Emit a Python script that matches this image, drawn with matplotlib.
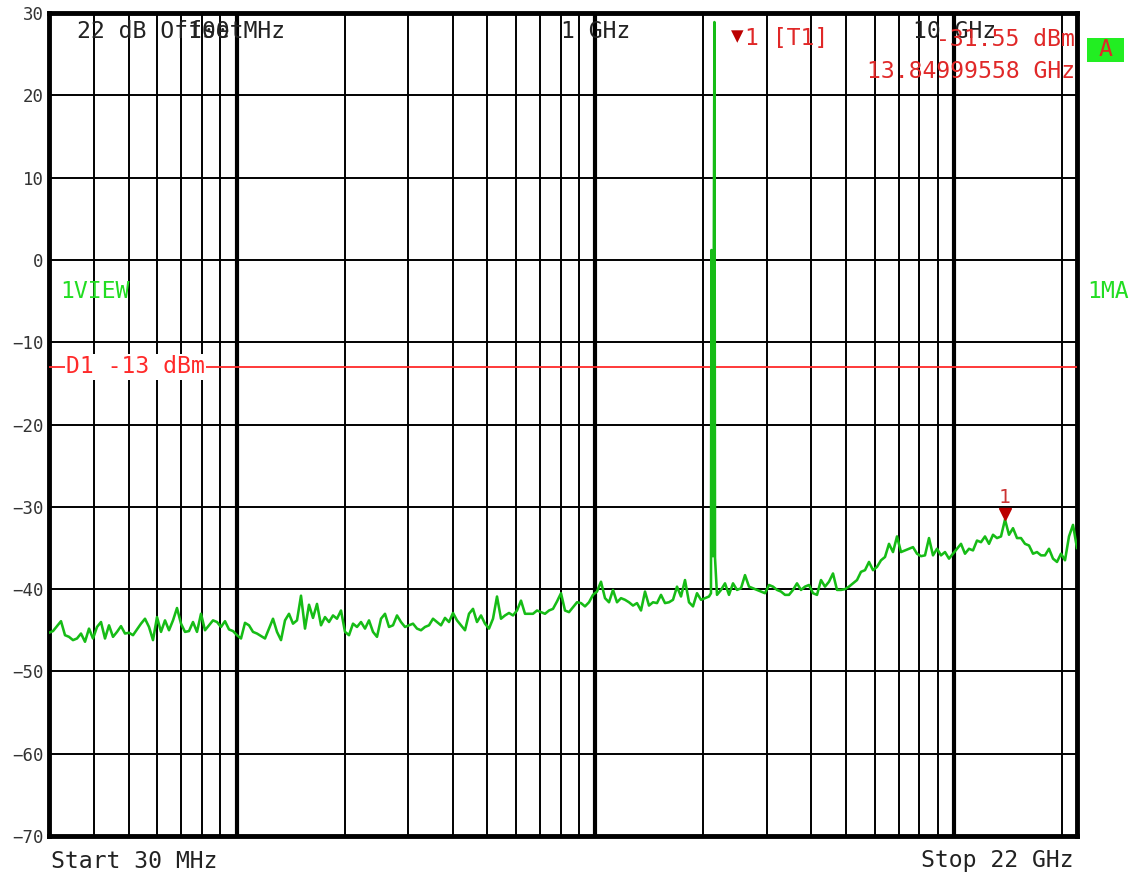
import numpy as np
import matplotlib.pyplot as plt
from matplotlib.patches import Rectangle
from matplotlib.transforms import blended_transform_factory, offset_copy

plt.rcParams['font.family'] = ['DejaVu Sans Mono', 'DejaVu Sans']

# sweep settings
START_HZ = 30e6
STOP_HZ = 22e9

# max-hold trace, one value per sweep point (dBm)
trace_dbm = [
    -45.3, -45.1, -44.5, -43.9, -45.6, -45.8, -46.2, -46.0, -45.4, -46.4,
    -44.8, -46.0, -44.6, -44.0, -46.0, -44.4, -45.8, -45.2, -44.5, -45.4,
    -45.3, -45.6, -44.9, -44.2, -43.6, -44.6, -46.2, -43.4, -45.2, -43.8,
    -45.0, -43.8, -42.3, -44.2, -45.2, -45.1, -44.0, -45.2, -43.0, -45.0,
    -44.4, -43.8, -44.0, -44.6, -43.9, -44.9, -45.1, -45.6, -46.0, -44.1,
    -44.4, -45.2, -45.4, -45.7, -46.0, -44.8, -43.6, -45.2, -46.2, -43.8,
    -43.0, -44.2, -43.8, -40.8, -44.8, -41.9, -43.5, -41.8, -44.4, -43.4,
    -44.0, -43.2, -43.6, -42.6, -45.2, -45.6, -44.2, -44.6, -44.0, -44.8,
    -43.8, -45.2, -45.8, -43.6, -43.0, -44.6, -44.4, -43.2, -44.0, -44.6,
    -44.4, -44.2, -44.8, -45.0, -44.6, -44.4, -43.6, -44.0, -44.4, -43.5,
    -44.0, -42.9, -43.8, -44.4, -45.0, -43.0, -42.4, -44.0, -43.2, -44.2,
    -44.8, -43.6, -40.9, -43.6, -43.2, -42.9, -43.2, -42.6, -41.4, -43.0,
    -43.0, -43.0, -42.6, -42.8, -43.0, -42.6, -42.4, -41.5, -40.5, -42.6,
    -42.8, -42.2, -41.6, -41.7, -42.1, -41.6, -40.7, -40.3, -39.1, -41.1,
    -41.6, -40.1, -41.6, -41.1, -41.3, -41.6, -42.0, -41.7, -42.6, -40.3,
    -42.0, -41.6, -41.7, -40.7, -41.7, -41.6, -41.3, -39.7, -40.9, -38.9,
    -41.6, -42.1, -40.5, -41.3, -41.1, -40.9, -36.0, -40.7, -40.1, -39.3,
    -40.7, -39.3, -40.1, -39.9, -38.3, -39.7, -39.9, -40.1, -40.3, -40.5,
    -39.5, -39.7, -40.1, -40.3, -40.7, -40.7, -40.1, -39.3, -40.1, -39.7,
    -39.5, -40.5, -40.7, -38.9, -39.7, -39.1, -38.1, -40.1, -40.1, -40.0,
    -39.7, -39.3, -38.9, -37.9, -37.7, -36.7, -37.7, -37.3, -36.5, -36.1,
    -34.5, -35.5, -33.6, -35.5, -35.3, -35.1, -34.9, -35.7, -36.0, -35.9,
    -33.8, -35.9, -35.1, -35.9, -35.5, -36.3, -35.7, -35.1, -34.5, -35.7,
    -35.1, -35.3, -34.1, -34.3, -33.6, -34.5, -33.4, -33.8, -33.6, -31.55,
    -33.4, -32.6, -33.8, -33.8, -34.5, -34.7, -35.7, -35.5, -35.9, -35.9,
    -35.1, -36.3, -36.7, -35.7, -36.5, -33.6, -32.2, -35.0,
]

# carrier samples around 2.1 GHz
carrier_mhz = [2100, 2106, 2147, 2155]
carrier_dbm = [-40.5, 1.2, 28.9, -36.2]

marker_ghz = 13.84999558
marker_dbm = -31.55
limit_dbm = -13

y_ticks = list(range(-70, 31, 10))
decade_hz = [100e6, 1e9, 10e9]
decade_labels = ['100 MHz', '1 GHz', '10 GHz']

RED = '#e02828'
GREEN_TXT = '#22dd22'
TXT = '#222222'
FS = 16.7

W, H = 1131, 876
fig = plt.figure(figsize=(W / 100, H / 100), dpi=100)
ax = fig.add_axes([49 / W, (H - 836) / H, 1028 / W, 823 / H])


def px(x, y):
    return x / W, 1 - y / H


freq = np.geomspace(START_HZ, STOP_HZ, len(trace_dbm))
f_all = np.concatenate([freq, np.array(carrier_mhz) * 1e6])
d_all = np.concatenate([np.array(trace_dbm), np.array(carrier_dbm)])
order = np.argsort(f_all)
ax.plot(f_all[order], d_all[order], color='#16bc16', lw=1.85, zorder=4)

ax.set_xscale('log')
ax.set_xlim(START_HZ, STOP_HZ)
ax.set_ylim(-70, 30)
ax.xaxis.set_major_locator(plt.NullLocator())
ax.xaxis.set_minor_locator(plt.NullLocator())
ax.set_yticks(y_ticks)
ax.tick_params(axis='y', length=0, pad=4, labelsize=12.5, labelcolor='#333333')
for s in ax.spines.values():
    s.set_linewidth(3.5)
    s.set_color('black')

# graticule
for dec in [10e6, 100e6, 1e9, 10e9]:
    for m in range(2, 10):
        f = dec * m
        if START_HZ < f < STOP_HZ:
            ax.axvline(f, color='black', lw=1.4, zorder=1)
for f in decade_hz:
    ax.axvline(f, color='black', lw=3.0, zorder=1)
for y in range(-60, 30, 10):
    ax.axhline(y, color='black', lw=1.4, zorder=1)

top = blended_transform_factory(ax.transData, ax.transAxes)
for f, lab in zip(decade_hz, decade_labels):
    ax.text(f, (836 - 32) / 823, lab, transform=top, ha='center', va='center',
            fontsize=FS, color=TXT, zorder=6)
fig.text(*px(77, 32), '22 dB Offset', ha='left', va='center', fontsize=FS, color=TXT)

# display line D1
ax.axhline(limit_dbm, color='#ff2a2a', lw=1.3, zorder=3)
left = blended_transform_factory(ax.transAxes, ax.transData)
ax.text((66 - 49) / 1028, limit_dbm, f'D1 {limit_dbm} dBm', transform=left,
        ha='left', va='center', fontsize=FS, color='#ff2a2a', zorder=6,
        bbox=dict(fc='white', ec='none', pad=1.0))

# marker 1
tip = offset_copy(ax.transData, fig=fig, y=4.3, units='points')
ax.plot(marker_ghz * 1e9, marker_dbm, marker='v', ms=8.6, color='#bb0000',
        transform=tip, zorder=7, ls='none')
ax.annotate('1', (marker_ghz * 1e9, marker_dbm), xytext=(0, 16),
            textcoords='offset points', ha='center', va='center',
            fontsize=14, color='#cc3333', zorder=7)

fig.text(*px(737, 36), '\u25bc', ha='center', va='center', fontsize=15, color='#bb0000')
fig.text(*px(745, 38), '1 [T1]', ha='left', va='center', fontsize=FS, color=RED)
fig.text(*px(1075, 40), f'{marker_dbm:.2f} dBm', ha='right', va='center',
         fontsize=FS, color=RED)
fig.text(*px(1075, 72), f'{marker_ghz:.8f} GHz', ha='right', va='center',
         fontsize=FS, color=RED)

# trace / detector annotations
ax.text((60 - 49) / 1028, (836 - 291) / 823, '1VIEW', transform=ax.transAxes,
        ha='left', va='center', fontsize=FS, color=GREEN_TXT, zorder=6)
fig.text(*px(1087, 291), '1MA', ha='left', va='center', fontsize=FS, color=GREEN_TXT)

fig.patches.append(Rectangle(px(1087, 62), 37 / W, 24 / H, transform=fig.transFigure,
                             fc='#22ee22', ec='none'))
fig.text(*px(1105.5, 50), 'A', ha='center', va='center', fontsize=FS, color=RED)

fig.text(*px(51, 861), f'Start {START_HZ / 1e6:.0f} MHz', ha='left', va='center',
         fontsize=FS, color=TXT)
fig.text(*px(1074, 861), f'Stop {STOP_HZ / 1e9:.0f} GHz', ha='right', va='center',
         fontsize=FS, color=TXT)

fig.savefig('out.png', dpi=100)
